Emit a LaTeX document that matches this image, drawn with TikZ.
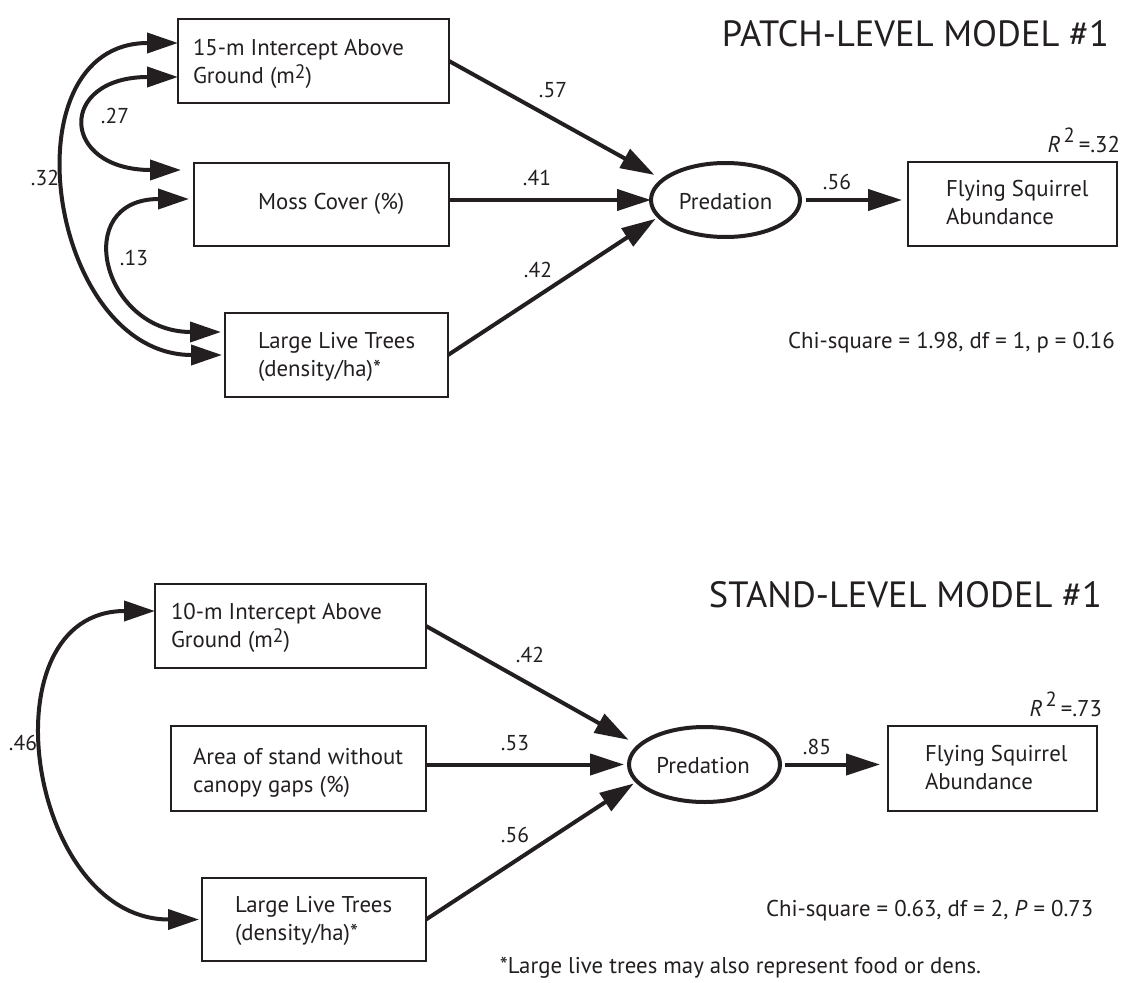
\documentclass[tikz,border=0pt]{standalone}
\usepackage{fontspec}
\setmainfont{PT Sans}
\usetikzlibrary{arrows.meta,shapes.geometric}
\definecolor{ink}{HTML}{231F20}
\newcommand{\sqm}{(m\raisebox{5pt}{\fontsize{19.5}{19.5}\selectfont 2})}
\newcommand{\rsq}[1]{\textit{R}\hspace{3pt}\raisebox{10pt}{\fontsize{20.5}{20.5}\selectfont 2}\hspace{4pt}=#1}
\begin{document}
\begin{tikzpicture}[x=1pt,y=-1pt,
  every node/.style={text=ink, inner sep=0pt, outer sep=0pt},
  varbox/.style={draw=ink, line width=2pt, rectangle},
  latent/.style={ellipse, draw=ink, line width=4pt, minimum width=149pt, minimum height=74pt},
  txt/.style={anchor=base west, align=left, font=\fontsize{22.8}{28}\selectfont},
  plain/.style={font=\fontsize{22.8}{28}\selectfont},
  coef/.style={font=\fontsize{21.5}{24}\selectfont},
  title/.style={anchor=base east, font=\fontsize{36.5}{40}\selectfont},
  effect/.style={draw=ink, line width=4pt, -{Triangle[length=34pt,width=21pt]}},
  corr/.style={draw=ink, line width=4pt,
    {Triangle[length=31pt,width=20pt]}-{Triangle[length=31pt,width=20pt]}}]

\fill[white] (0,0) rectangle (1126,982);
\useasboundingbox (0,0) rectangle (1126,982);

% ---------------- patch-level model ----------------
\node[title] (t1) at (1109,47) {PATCH-LEVEL MODEL \#1};

\node[varbox, minimum width=271pt, minimum height=84pt] (A) at (313.5,61) {};
\node[varbox, minimum width=255pt, minimum height=83pt] (M) at (321.5,204.5) {};
\node[varbox, minimum width=223pt, minimum height=84pt] (L) at (336.5,355) {};
\node[varbox, minimum width=209pt, minimum height=84pt] (F) at (1012.5,204) {};
\node[latent] (P) at (725.5,200) {};

% multi-line labels are anchored at the baseline of their last line
\node[txt] (At) at (193,83) {15-m Intercept Above\\Ground \sqm};
\node[txt] (Mt) at (258,209) {Moss Cover (\%)};
\node[txt] (Lt) at (258,376) {Large Live Trees\\(density/ha)*};
\node[txt] (Ft) at (946,224) {Flying Squirrel\\Abundance};
\node[plain, anchor=base] (Pt) at (725.5,209) {Predation};
\node[plain, anchor=base east] (R1) at (1120,152) {\rsq{.32}};

% direct effects
\draw[effect, shorten >=10pt] (A.east) -- (P.162);
\draw[effect] (M.east |- P.west) -- (P.west);
\draw[effect, shorten >=4pt] (L.east) -- (P.194);
\draw[effect, shorten <=6pt, shorten >=6pt] (P.east) -- (P.east -| F.west);

% correlations among predictors
\draw[corr] ([yshift=18pt]A.west) .. controls +(-174,0) and +(-174,0) .. ([xshift=-3pt]L.west);
\draw[corr] ([yshift=-16pt]A.west) .. controls +(-121,0) and +(-121,0) .. ([xshift=-13pt,yshift=34.5pt]M.west);
\draw[corr] ([xshift=-5pt,yshift=5.5pt]M.west) .. controls +(-119,0) and +(-119,0) .. ([xshift=-4pt,yshift=23pt]L.west);

\node[coef] (c57) at (553,90) {.57};
\node[coef] (c41) at (537,178) {.41};
\node[coef] (c42) at (538,270) {.42};
\node[coef] (c56) at (837,182) {.56};
\node[coef] (c27) at (115,116) {.27};
\node[coef] (c32) at (45,178) {.32};
\node[coef] (c13) at (134,258) {.13};

\node[plain, anchor=base west] (chi1) at (788,348) {Chi-square = 1.98, df = 1, p = 0.16};

% ---------------- stand-level model ----------------
\node[title] (t2) at (1102,607) {STAND-LEVEL MODEL \#1};

\node[varbox, minimum width=271pt, minimum height=84pt] (A2) at (290.5,626) {};
\node[varbox, minimum width=255pt, minimum height=85pt] (M2) at (298.5,768.5) {};
\node[varbox, minimum width=224pt, minimum height=83pt] (L2) at (314,919.5) {};
\node[varbox, minimum width=209pt, minimum height=85pt] (F2) at (992.5,768.5) {};
\node[latent, minimum width=151pt, minimum height=75pt] (P2) at (704.5,764.5) {};

\node[txt] (A2t) at (171,647) {10-m Intercept Above\\Ground \sqm};
\node[txt] (M2t) at (193,792) {Area of stand without\\canopy gaps (\%)};
\node[txt] (L2t) at (235,940) {Large Live Trees\\(density/ha)*};
\node[txt] (F2t) at (925,789) {Flying Squirrel\\Abundance};
\node[plain, anchor=base] (P2t) at (703,773) {Predation};
\node[plain, anchor=base east] (R2) at (1102,716) {\rsq{.73}};

\draw[effect, shorten >=12pt] (A2.east) -- (P2.164);
\draw[effect, shorten >=5pt] (M2.east |- P2.west) -- (P2.west);
\draw[effect, shorten >=4pt] (L2.east) -- (P2.194);
\draw[effect, shorten <=5pt, shorten >=8pt] (P2.east) -- (P2.east -| F2.west);

\draw[corr] ([yshift=15pt]A2.west) .. controls +(-172,0) and +(-172,0) .. ([xshift=-3pt]L2.west);

\node[coef] (d42) at (530,655) {.42};
\node[coef] (d53) at (515,743) {.53};
\node[coef] (d56) at (515,835) {.56};
\node[coef] (d85) at (817,747) {.85};
\node[coef] (d46) at (23,743) {.46};

\node[plain, anchor=base west] (chi2) at (766,916) {Chi-square = 0.63, df = 2, \textit{P} = 0.73};
\node[plain, anchor=base east] (foot) at (981,973) {*Large live trees may also represent food or dens.};
\end{tikzpicture}
\end{document}
